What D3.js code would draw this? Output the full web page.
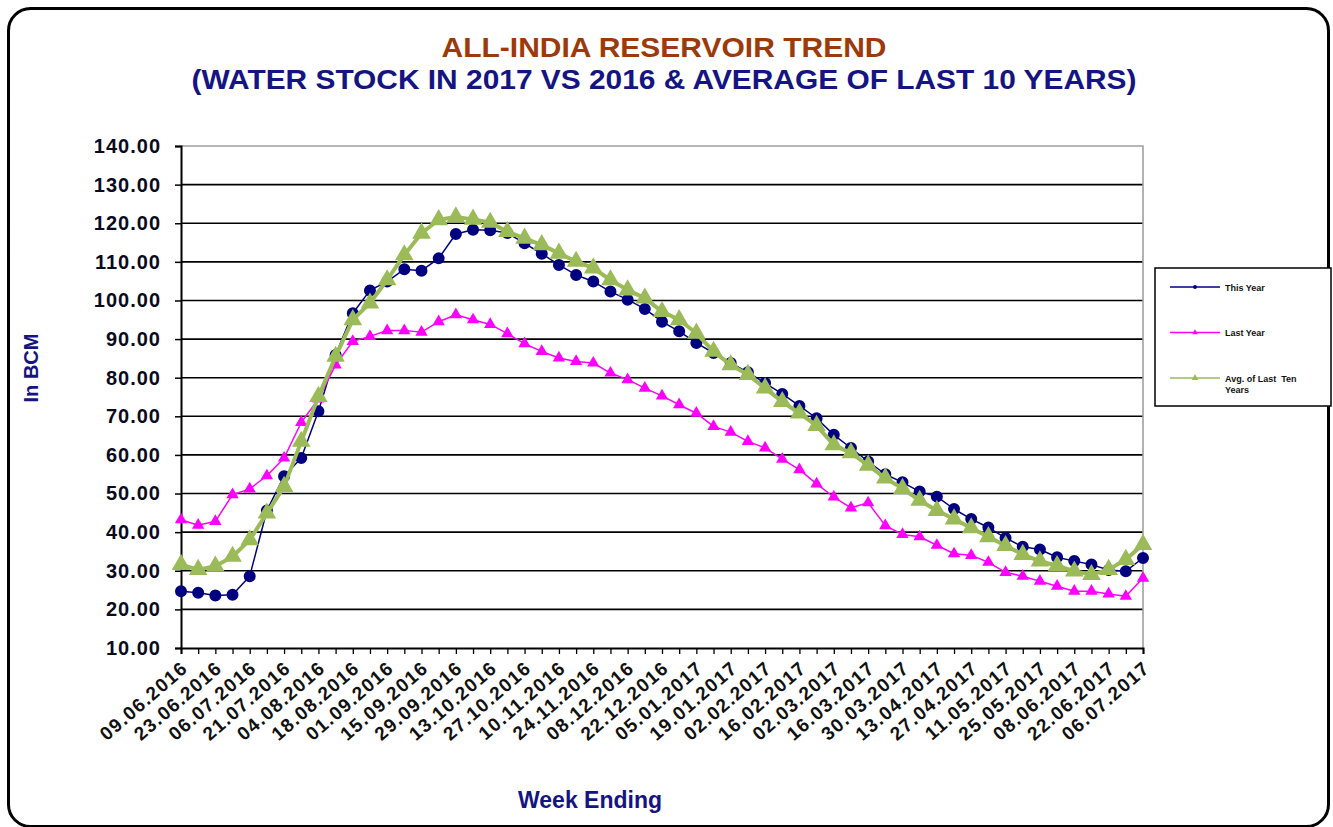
<!DOCTYPE html>
<html>
<head>
<meta charset="utf-8">
<script src="https://cdnjs.cloudflare.com/ajax/libs/d3/7.8.5/d3.min.js"></script>
<style>
  body { margin: 0; background: #fff; }
  text { font-family: "Liberation Sans", Arial, sans-serif; font-weight: bold; }
</style>
</head>
<body>
<div id="viz-container"></div>
<script>
// week ending labels, shown on every second tick
var tickLabels = ["09.06.2016","23.06.2016","06.07.2016","21.07.2016","04.08.2016","18.08.2016",
  "01.09.2016","15.09.2016","29.09.2016","13.10.2016","27.10.2016","10.11.2016","24.11.2016",
  "08.12.2016","22.12.2016","05.01.2017","19.01.2017","02.02.2017","16.02.2017","02.03.2017",
  "16.03.2017","30.03.2017","13.04.2017","27.04.2017","11.05.2017","25.05.2017","08.06.2017",
  "22.06.2017","06.07.2017"];

var yTicks = [10,20,30,40,50,60,70,80,90,100,110,120,130,140];

var thisYear = [24.7,24.3,23.6,23.8,28.6,45.6,54.5,59.2,71.3,85.9,
  96.7,102.6,104.9,108.1,107.7,110.9,117.2,118.3,118.2,117.5,
  114.8,112.1,109.2,106.6,104.9,102.3,100.2,97.8,94.5,92.0,
  89.0,86.4,83.8,81.4,78.6,75.8,72.7,69.5,65.2,61.8,
  58.3,55.0,52.9,50.5,49.2,46.0,43.4,41.2,38.5,36.2,
  35.5,33.5,32.5,31.6,30.2,29.9,33.3];

var lastYear = [43.2,41.8,42.8,49.7,51.2,54.6,59.2,68.4,74.5,83.3,
  89.4,90.7,92.2,92.2,91.8,94.5,96.3,95.0,93.8,91.4,
  88.8,86.8,85.1,84.2,83.8,81.2,79.5,77.3,75.3,73.0,
  70.8,67.4,65.9,63.5,61.8,58.9,56.2,52.5,49.1,46.3,
  47.6,41.7,39.4,38.8,36.6,34.4,34.0,32.2,29.6,28.6,
  27.3,26.0,24.7,24.7,24.0,23.4,28.1];

var avgTenYears = [31.6,30.3,31.2,33.7,38.0,44.9,51.8,63.5,75.1,85.5,
  95.0,99.3,105.3,111.8,117.4,120.9,121.6,121.0,120.2,117.8,
  116.1,114.4,112.2,110.1,108.4,105.3,102.7,100.6,97.1,95.0,
  91.5,86.8,83.3,80.8,77.3,73.8,70.8,67.6,62.6,60.5,
  57.3,54.0,51.3,48.2,45.6,43.4,41.1,38.8,36.5,34.2,
  32.5,31.3,29.9,29.0,30.3,32.9,36.8];

var seriesNames = ["This Year", "Last Year", "Avg. of Last  Ten Years"];

var width = 1333, height = 827;
var plot = {left: 181, right: 1143, top: 146, bottom: 648};

var svg = d3.select("#viz-container")
            .append("svg")
            .attr("width", width)
            .attr("height", height);

// outer rounded frame
svg.append("rect")
   .attr("x", 8.5).attr("y", 8.5)
   .attr("width", 1320).attr("height", 818)
   .attr("rx", 22)
   .attr("fill", "#fff")
   .attr("stroke", "#000")
   .attr("stroke-width", 3);

// titles
svg.append("text")
   .attr("x", 664).attr("y", 57)
   .attr("text-anchor", "middle")
   .attr("fill", "#9C3A0B")
   .attr("font-size", 28)
   .attr("textLength", 445)
   .attr("lengthAdjust", "spacingAndGlyphs")
   .text("ALL-INDIA RESERVOIR TREND");

svg.append("text")
   .attr("x", 664).attr("y", 89)
   .attr("text-anchor", "middle")
   .attr("fill", "#141482")
   .attr("font-size", 28)
   .attr("textLength", 945)
   .attr("lengthAdjust", "spacingAndGlyphs")
   .text("(WATER STOCK IN 2017 VS 2016 & AVERAGE OF LAST 10 YEARS)");

var n = thisYear.length;
var x = d3.scaleLinear().domain([0, n - 1]).range([plot.left, plot.right]);
var y = d3.scaleLinear().domain([10, 140]).range([plot.bottom, plot.top]);

// gridlines
svg.append("g")
   .selectAll("line")
   .data(yTicks.filter(function(d) { return d > 10 && d < 140; }))
   .enter().append("line")
   .attr("x1", plot.left).attr("x2", plot.right)
   .attr("y1", function(d) { return y(d); })
   .attr("y2", function(d) { return y(d); })
   .attr("stroke", "#000")
   .attr("stroke-width", 1.6);

// plot border top / right
svg.append("path")
   .attr("d", "M" + plot.left + "," + plot.top + "H" + plot.right + "V" + plot.bottom)
   .attr("fill", "none")
   .attr("stroke", "#a0a0a0")
   .attr("stroke-width", 1.6);

// y axis
var yAxis = svg.append("g")
   .attr("transform", "translate(" + plot.left + ",0)")
   .call(d3.axisLeft(y).tickValues(yTicks).tickSize(6).tickPadding(14)
           .tickFormat(function(d) { return d3.format(".2f")(d); }));
yAxis.select(".domain").attr("stroke", "#000").attr("stroke-width", 2);
yAxis.selectAll(".tick line").attr("stroke", "#000").attr("stroke-width", 1.5);
yAxis.selectAll(".tick text")
     .attr("font-size", 20)
     .attr("letter-spacing", 1)
     .attr("fill", "#0a0a1e")
     .attr("font-family", "Liberation Sans, Arial, sans-serif")
     .attr("font-weight", "bold");

// x axis
var xAxis = svg.append("g")
   .attr("transform", "translate(0," + plot.bottom + ")")
   .call(d3.axisBottom(x).tickValues(d3.range(n)).tickSize(6).tickFormat(""));
xAxis.select(".domain").attr("stroke", "#000").attr("stroke-width", 2);
xAxis.selectAll(".tick line").attr("stroke", "#000").attr("stroke-width", 1.3);

svg.append("g")
   .selectAll("text")
   .data(tickLabels)
   .enter().append("text")
   .attr("transform", function(d, i) {
     return "translate(" + (x(i * 2) + 8) + "," + (plot.bottom + 22) + ") rotate(-41)";
   })
   .attr("text-anchor", "end")
   .attr("font-size", 19)
   .attr("letter-spacing", 1.4)
   .attr("fill", "#111")
   .text(function(d) { return d; });

// axis titles
svg.append("text")
   .attr("transform", "translate(38,368) rotate(-90)")
   .attr("text-anchor", "middle")
   .attr("fill", "#141482")
   .attr("font-size", 20)
   .text("In BCM");

svg.append("text")
   .attr("x", 590).attr("y", 808)
   .attr("text-anchor", "middle")
   .attr("fill", "#141482")
   .attr("font-size", 23)
   .text("Week Ending");

var line = d3.line()
             .x(function(d, i) { return x(i); })
             .y(function(d) { return y(d); });

var series = [
  {name: seriesNames[0], values: thisYear, color: "#000080", width: 1.5, symbol: d3.symbolCircle, size: 113, lsize: 12},
  {name: seriesNames[1], values: lastYear, color: "#FF00FF", width: 1.5, symbol: d3.symbolTriangle, size: 66, lsize: 14},
  {name: seriesNames[2], values: avgTenYears, color: "#9BBB59", width: 4, symbol: d3.symbolTriangle, size: 150, lsize: 20}
];

series.forEach(function(s) {
  var g = svg.append("g");
  g.append("path")
   .datum(s.values)
   .attr("d", line)
   .attr("fill", "none")
   .attr("stroke", s.color)
   .attr("stroke-width", s.width)
   .attr("stroke-linejoin", "round");
  g.selectAll("path.marker")
   .data(s.values)
   .enter().append("path")
   .attr("class", "marker")
   .attr("transform", function(d, i) { return "translate(" + x(i) + "," + y(d) + ")"; })
   .attr("d", d3.symbol().type(s.symbol).size(s.size))
   .attr("fill", s.color);
});

// legend
var legend = svg.append("g").attr("transform", "translate(1155,268)");
legend.append("rect")
      .attr("width", 176).attr("height", 138)
      .attr("fill", "#fff")
      .attr("stroke", "#000")
      .attr("stroke-width", 1.5);

var legendItem = legend.selectAll("g.item")
      .data(series)
      .enter().append("g")
      .attr("class", "item")
      .attr("transform", function(d, i) { return "translate(0," + (19 + i * 45.5) + ")"; });

legendItem.append("line")
      .attr("x1", 15).attr("x2", 65)
      .attr("stroke", function(d) { return d.color; })
      .attr("stroke-width", 1.5);
legendItem.append("path")
      .attr("transform", "translate(40,0)")
      .attr("d", function(d) { return d3.symbol().type(d.symbol).size(d.lsize)(); })
      .attr("fill", function(d) { return d.color; });

var legendText = legendItem.append("text")
      .attr("x", 70).attr("y", 3.5)
      .attr("font-size", 9)
      .attr("fill", "#111");
legendText.selectAll("tspan")
      .data(function(d) { return d.name.indexOf("Ten") > 0 ? ["Avg. of Last  Ten", "Years"] : [d.name]; })
      .enter().append("tspan")
      .attr("x", 70)
      .attr("dy", function(d, i) { return i === 0 ? 0 : 11; })
      .attr("xml:space", "preserve")
      .text(function(d) { return d; });
</script>
</body>
</html>
